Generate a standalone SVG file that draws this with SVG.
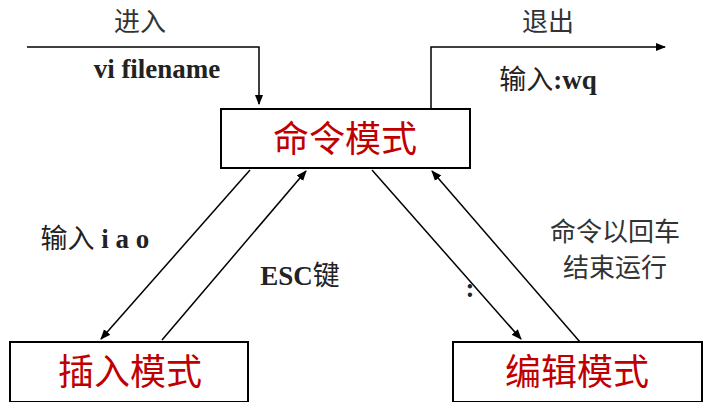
<svg xmlns="http://www.w3.org/2000/svg" width="712" height="402" viewBox="0 0 712 402">
<style>
.box{fill:#fff;stroke:#000;stroke-width:2}
.ln{stroke:#000;stroke-width:1.5;fill:none}
.t{font-family:"Liberation Serif","Noto Sans CJK SC",serif;font-size:27px;fill:#222;text-anchor:middle}
.b{font-weight:bold}
.s{font-family:"Noto Sans CJK SC",sans-serif;font-size:26px;fill:#333;text-anchor:middle}
.r{font-family:"Noto Sans CJK SC",sans-serif;font-size:36px;fill:#c00000;text-anchor:middle}
</style>
<defs><marker id="a" viewBox="0 0 10 10" refX="9" refY="5" markerWidth="7" markerHeight="7" orient="auto"><path d="M0,1 L10,5 L0,9 z" fill="#000"/></marker></defs>
<g id="connectors">
<polyline class="ln" points="27,47 259,47 259,104" marker-end="url(#a)"/>
<polyline class="ln" points="431,108 431,47 665,47" marker-end="url(#a)"/>
<line class="ln" x1="250" y1="170" x2="101" y2="339" marker-end="url(#a)"/>
<line class="ln" x1="162" y1="340" x2="306" y2="171" marker-end="url(#a)"/>
<line class="ln" x1="372" y1="170" x2="521" y2="339" marker-end="url(#a)"/>
<line class="ln" x1="580" y1="342" x2="432" y2="171" marker-end="url(#a)"/>
</g>
<g id="cmd"><rect class="box" x="221" y="109" width="249" height="59"/><text class="r" x="345" y="152">命令模式</text></g>
<g id="insert"><rect class="box" x="10" y="342" width="238" height="60"/><text class="r" x="130" y="385">插入模式</text></g>
<g id="edit"><rect class="box" x="453" y="342" width="249" height="60"/><text class="r" x="577" y="385">编辑模式</text></g>
<g id="labels">
<text class="s" x="140" y="31">进入</text>
<text class="t b" x="157" y="78">vi filename</text>
<text class="s" x="548" y="31">退出</text>
<text class="t b" x="548" y="89"><tspan font-family="Noto Sans CJK SC" font-weight="normal">输入</tspan>:wq</text>
<text class="t b" x="95" y="248"><tspan font-family="Noto Sans CJK SC" font-weight="normal">输入</tspan> i a o</text>
<text class="t b" x="300" y="285">ESC<tspan font-family="Noto Sans CJK SC" font-weight="normal">键</tspan></text>
<text class="s" x="615" y="241">命令以回车</text>
<text class="s" x="615" y="277">结束运行</text>
<text class="t b" x="470" y="297">:</text>
</g>
</svg>
